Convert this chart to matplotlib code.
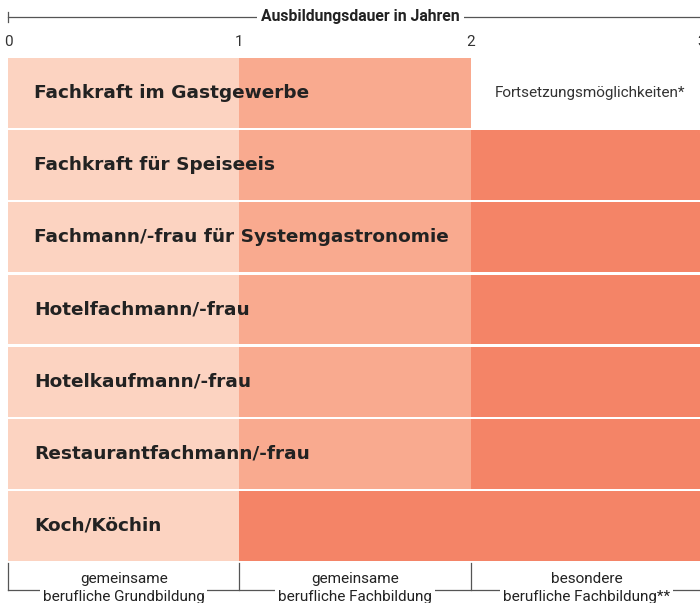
import matplotlib
matplotlib.use("Agg")
import matplotlib.pyplot as plt

# Ausbildungsberufe (top to bottom)
berufe = [
    "Fachkraft im Gastgewerbe",
    "Fachkraft für Speiseeis",
    "Fachmann/-frau für Systemgastronomie",
    "Hotelfachmann/-frau",
    "Hotelkaufmann/-frau",
    "Restaurantfachmann/-frau",
    "Koch/Köchin",
]
# duration of each phase in years
grundbildung = [1, 1, 1, 1, 1, 1, 1]
fachbildung = [1, 1, 1, 1, 1, 1, 0]
besondere = [0, 1, 1, 1, 1, 1, 2]

phasen = ["gemeinsame\nberufliche Grundbildung",
          "gemeinsame\nberufliche Fachbildung",
          "besondere\nberufliche Fachbildung**"]
jahre = [0, 1, 2, 3]

c_light = "#FCD3C1"
c_mid = "#F9AA8F"
c_dark = "#F48467"
c_line = "#555555"
c_text = "#222222"

W, H = 700, 603
fig = plt.figure(figsize=(W / 100, H / 100), dpi=100)

x0, x3 = 8, 702  # pixel positions of year 0 and year 3
axl = x0 / W
axw = (x3 - x0) / W

# bar area
ax = fig.add_axes([axl, 1 - 562 / H, axw, (562 - 57) / H])
ax.set_xlim(0, 3)
ax.set_ylim(len(berufe) - 0.5, -0.5)
ax.axis("off")

ypos = list(range(len(berufe)))
h = 0.97
ax.barh(ypos, grundbildung, height=h, left=0, color=c_light, linewidth=0)
ax.barh(ypos, fachbildung, height=h, left=grundbildung, color=c_mid, linewidth=0)
left3 = [a + b for a, b in zip(grundbildung, fachbildung)]
ax.barh(ypos, besondere, height=h, left=left3, color=c_dark, linewidth=0)

for i, name in enumerate(berufe):
    ax.text(0.112, i, name, ha="left", va="center", fontsize=13.3,
            fontweight="bold", color=c_text, family="DejaVu Sans")
    if besondere[i] == 0:
        ax.text(2.516, i, "Fortsetzungsmöglichkeiten*", ha="center", va="center",
                fontsize=11, color="#333333", family="Roboto")

# overlay axes for top scale and bottom brackets, y in pixels
ov = fig.add_axes([axl, 0, axw, 1])
ov.set_xlim(0, 3)
ov.set_ylim(H, 0)
ov.axis("off")

# top scale
ov.plot([jahre[0], jahre[-1]], [17, 17], color=c_line, lw=0.9, clip_on=False)
ov.plot([0, 0], [12, 22], color=c_line, lw=0.9, clip_on=False)
ov.text(1.525, 17, "Ausbildungsdauer in Jahren", ha="center", va="center",
        fontsize=11.3, fontweight="bold", color=c_text, family="Roboto",
        bbox=dict(facecolor="white", edgecolor="none", pad=3))
for j in jahre:
    ov.text(j, 42, str(j), ha="center", va="center", fontsize=11,
            color="#333333", family="Roboto", clip_on=False)

# bottom brackets
for j in jahre:
    ov.plot([j, j], [563, 590], color=c_line, lw=0.9, clip_on=False)
ov.plot([0, 3], [590, 590], color=c_line, lw=0.9, clip_on=False)
for k, label in enumerate(phasen):
    ov.text(k + 0.5, 588, label, ha="center", va="center", fontsize=11,
            color=c_text, family="Roboto", linespacing=1.3,
            bbox=dict(facecolor="white", edgecolor="none", pad=2))

plt.savefig("out.png", dpi=100)
